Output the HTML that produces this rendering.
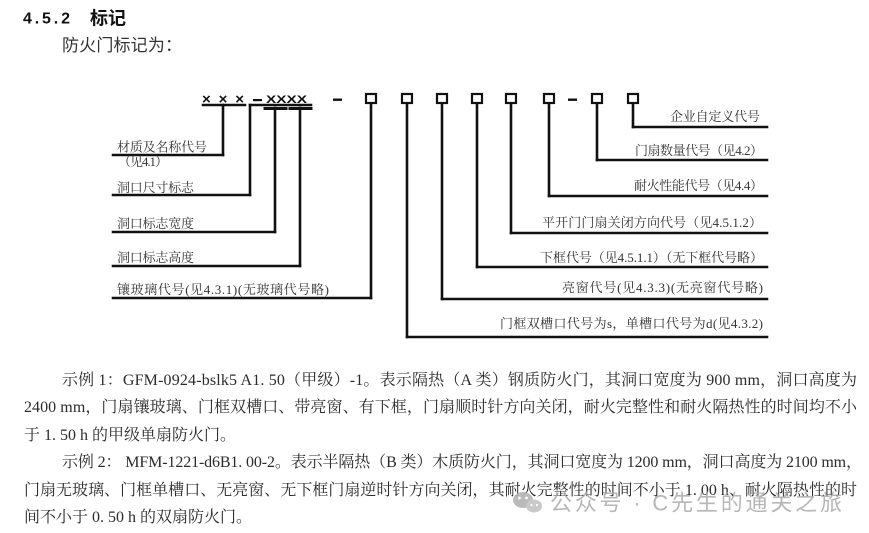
<!DOCTYPE html>
<html>
<head>
<meta charset="utf-8">
<style>
html,body{margin:0;padding:0;background:#fff;}
body{width:869px;height:533px;overflow:hidden;position:relative;}
svg{position:absolute;left:0;top:0;}
.lab{font-family:"Liberation Serif","Noto Serif CJK SC",serif;font-size:13px;fill:#333;}
.body{font-family:"Liberation Serif","Noto Serif CJK SC",serif;font-size:16px;fill:#2b2b2b;}
</style>
</head>
<body>
<svg width="869" height="533" viewBox="0 0 869 533" xmlns="http://www.w3.org/2000/svg">
  <!-- heading -->
  <text x="23" y="23.5" font-family="Liberation Sans, sans-serif" font-weight="bold" font-size="16" fill="#111" textLength="47" lengthAdjust="spacing">4.5.2</text>
  <text x="90" y="24.5" font-family="Liberation Sans, 'Noto Sans CJK SC', sans-serif" font-weight="bold" font-size="18" fill="#111" textLength="36">标记</text>
  <text x="62" y="51" font-family="Liberation Sans, 'Noto Sans CJK SC', sans-serif" font-size="17" fill="#333" textLength="120">防火门标记为：</text>

  <!-- top codes -->
  <text x="202" y="104" font-family="Liberation Sans, sans-serif" font-weight="bold" font-size="15" fill="#111" textLength="42" lengthAdjust="spacing">×××</text>
  <rect x="253" y="99" width="9" height="2.2" fill="#111"/>
  <text x="266" y="103" font-family="Liberation Sans, sans-serif" font-weight="bold" font-size="11" fill="#111" textLength="41" lengthAdjust="spacingAndGlyphs">XXXX</text>
  <rect x="333" y="98.5" width="9" height="2.4" fill="#111"/>
  <rect x="568" y="98.5" width="9" height="2.4" fill="#111"/>

  <g stroke="#111" stroke-width="2.6" fill="none" stroke-linecap="square">
    <!-- underline xxx -->
    <line x1="203" y1="105" x2="245" y2="105"/>
    <line x1="223" y1="105" x2="223" y2="155"/>
    <line x1="113" y1="155" x2="223" y2="155"/>
    <!-- bracket -XXXX -->
    <line x1="250" y1="105" x2="311" y2="105"/>
    <line x1="250" y1="105" x2="250" y2="195"/>
    <line x1="113" y1="195" x2="250" y2="195"/>
    <line x1="265" y1="108.5" x2="286" y2="108.5" stroke-width="3"/>
    <line x1="290" y1="108.5" x2="311" y2="108.5" stroke-width="3"/>
    <line x1="275" y1="108" x2="275" y2="232"/>
    <line x1="113" y1="232" x2="275" y2="232"/>
    <line x1="300" y1="108" x2="300" y2="266"/>
    <line x1="113" y1="266" x2="300" y2="266"/>

    <!-- boxes -->
    <rect x="366" y="94" width="10" height="9" stroke-width="2.2"/>
    <rect x="402" y="94" width="10" height="9" stroke-width="2.2"/>
    <rect x="437" y="94" width="10" height="9" stroke-width="2.2"/>
    <rect x="472" y="94" width="10" height="9" stroke-width="2.2"/>
    <rect x="506" y="94" width="10" height="9" stroke-width="2.2"/>
    <rect x="544" y="94" width="10" height="9" stroke-width="2.2"/>
    <rect x="592" y="94" width="10" height="9" stroke-width="2.2"/>
    <rect x="628" y="94" width="10" height="9" stroke-width="2.2"/>

    <!-- box leads -->
    <line x1="371" y1="104" x2="371" y2="298"/>
    <line x1="113" y1="298" x2="371" y2="298"/>
    <line x1="407" y1="104" x2="407" y2="337"/>
    <line x1="407" y1="337" x2="767" y2="337"/>
    <line x1="442" y1="104" x2="442" y2="299"/>
    <line x1="442" y1="299" x2="767" y2="299"/>
    <line x1="477" y1="104" x2="477" y2="267"/>
    <line x1="477" y1="267" x2="767" y2="267"/>
    <line x1="511" y1="104" x2="511" y2="233"/>
    <line x1="511" y1="233" x2="767" y2="233"/>
    <line x1="549" y1="104" x2="549" y2="196"/>
    <line x1="549" y1="196" x2="767" y2="196"/>
    <line x1="597" y1="104" x2="597" y2="160"/>
    <line x1="597" y1="160" x2="767" y2="160"/>
    <line x1="633" y1="104" x2="633" y2="127"/>
    <line x1="633" y1="127" x2="767" y2="127"/>
  </g>

  <!-- left labels -->
  <text class="lab" x="117" y="151.5" textLength="90">材质及名称代号</text>
  <text class="lab" x="118" y="166" textLength="50">（见4.1）</text>
  <text class="lab" x="117" y="192" textLength="77">洞口尺寸标志</text>
  <text class="lab" x="117" y="228" textLength="77">洞口标志宽度</text>
  <text class="lab" x="117" y="262" textLength="77">洞口标志高度</text>
  <text class="lab" x="117" y="294" textLength="212">镶玻璃代号(见4.3.1)(无玻璃代号略)</text>

  <!-- right labels -->
  <text class="lab" x="670" y="121" textLength="90">企业自定义代号</text>
  <text class="lab" x="635" y="155" textLength="128">门扇数量代号（见4.2）</text>
  <text class="lab" x="634" y="190" textLength="129">耐火性能代号（见4.4）</text>
  <text class="lab" x="542" y="227" textLength="220">平开门门扇关闭方向代号（见4.5.1.2）</text>
  <text class="lab" x="540" y="262" textLength="223">下框代号（见4.5.1.1）（无下框代号略）</text>
  <text class="lab" x="562" y="292" textLength="201">亮窗代号(见4.3.3)(无亮窗代号略)</text>
  <text class="lab" x="500" y="328" textLength="263">门框双槽口代号为s，单槽口代号为d(见4.3.2)</text>

  <!-- body text -->
  <text class="body" x="62" y="385" textLength="795" lengthAdjust="spacing">示例 1：GFM-0924-bslk5 A1. 50（甲级）-1。表示隔热（A 类）钢质防火门，其洞口宽度为 900 mm，洞口高度为</text>
  <text class="body" x="24" y="412" textLength="833" lengthAdjust="spacing">2400 mm，门扇镶玻璃、门框双槽口、带亮窗、有下框，门扇顺时针方向关闭，耐火完整性和耐火隔热性的时间均不小</text>
  <text class="body" x="24" y="440">于 1. 50 h 的甲级单扇防火门。</text>
  <text class="body" x="62" y="467" textLength="800" lengthAdjust="spacing">示例 2： MFM-1221-d6B1. 00-2。表示半隔热（B 类）木质防火门，其洞口宽度为 1200 mm，洞口高度为 2100 mm，</text>
  <text class="body" x="24" y="495" textLength="833" lengthAdjust="spacing">门扇无玻璃、门框单槽口、无亮窗、无下框门扇逆时针方向关闭，其耐火完整性的时间不小于 1. 00 h、耐火隔热性的时</text>
  <text class="body" x="24" y="522">间不小于 0. 50 h 的双扇防火门。</text>

  <!-- watermark -->
  <g fill="#b4b4b4" opacity="0.9">
    <ellipse cx="523" cy="500" rx="10" ry="8"/>
    <ellipse cx="534" cy="506" rx="8" ry="6.5" fill="#c4c4c4"/>
    <circle cx="519.5" cy="498" r="1.4" fill="#fff"/>
    <circle cx="526.5" cy="498" r="1.4" fill="#fff"/>
    <circle cx="531.5" cy="505" r="1.1" fill="#fff"/>
    <circle cx="537" cy="505" r="1.1" fill="#fff"/>
  </g>
  <text x="550" y="510.5" font-family="Liberation Sans, 'Noto Sans CJK SC', sans-serif" font-size="22" fill="#aaaaaa" fill-opacity="0.85" textLength="292" lengthAdjust="spacing">公众号 · C先生的通关之旅</text>
</svg>
</body>
</html>
